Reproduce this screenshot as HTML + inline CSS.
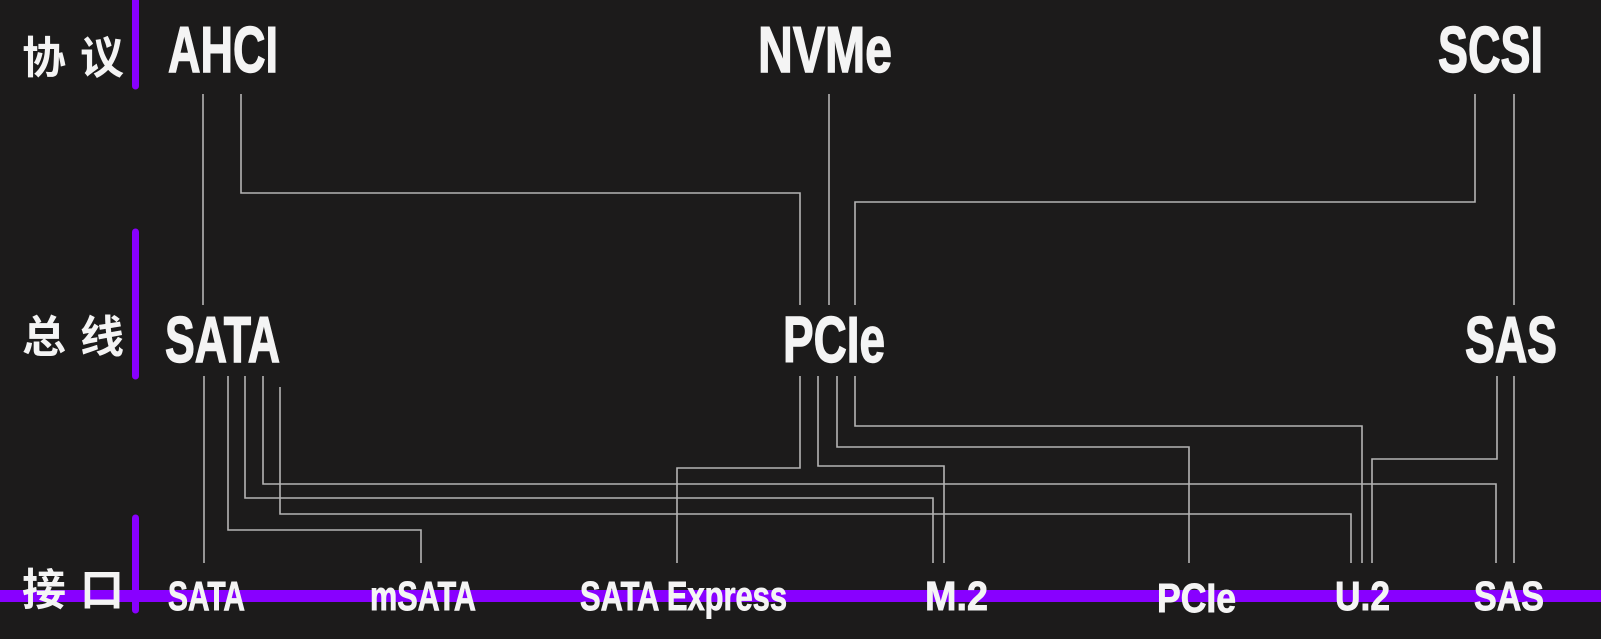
<!DOCTYPE html>
<html><head><meta charset="utf-8"><style>
html,body{margin:0;padding:0;background:#1b1b1b;}
svg{display:block;}
</style></head><body>
<svg width="1601" height="639" viewBox="0 0 1601 639" xmlns="http://www.w3.org/2000/svg">
<rect width="1601" height="639" fill="#1c1b1b"/>
<g stroke="#8800ff" stroke-linecap="round" fill="none">
<line x1="135.5" y1="-5" x2="135.5" y2="86" stroke-width="7"/>
<line x1="135.5" y1="232" x2="135.5" y2="376" stroke-width="7"/>
<line x1="135.5" y1="518" x2="135.5" y2="610" stroke-width="7"/>
</g>
<rect x="0" y="590" width="1601" height="12" fill="#8800ff"/>
<g stroke="#b4b4b4" stroke-width="1.6" fill="none">
<polyline points="203,94 203,305"/>
<polyline points="241,94 241,193 800,193 800,305"/>
<polyline points="829,94 829,305"/>
<polyline points="1475,94 1475,202 855,202 855,305"/>
<polyline points="1514,94 1514,305"/>
<polyline points="204,376 204,563"/>
<polyline points="228,376 228,530 421,530 421,563"/>
<polyline points="245,376 245,498 933,498 933,563"/>
<polyline points="263,376 263,484 1496,484 1496,563"/>
<polyline points="280,387 280,514 1351,514 1351,563"/>
<polyline points="800,376 800,468 677,468 677,563"/>
<polyline points="818,376 818,466 944,466 944,563"/>
<polyline points="837,376 837,447 1189,447 1189,563"/>
<polyline points="855,376 855,426 1362,426 1362,563"/>
<polyline points="1497,376 1497,459 1372,459 1372,563"/>
<polyline points="1514,376 1514,563"/>
</g>
<g fill="#f4f4f4" stroke="#f4f4f4" stroke-width="1.4" font-family="Liberation Sans, sans-serif" font-weight="bold">
<text x="168" y="72" font-size="65" textLength="110" lengthAdjust="spacingAndGlyphs">AHCI</text>
<text x="758" y="72" font-size="65" textLength="134" lengthAdjust="spacingAndGlyphs">NVMe</text>
<text x="1438" y="72" font-size="65" textLength="105" lengthAdjust="spacingAndGlyphs">SCSI</text>
<text x="165" y="362" font-size="65" textLength="115" lengthAdjust="spacingAndGlyphs">SATA</text>
<text x="783" y="362" font-size="65" textLength="102" lengthAdjust="spacingAndGlyphs">PCIe</text>
<text x="1465" y="362" font-size="65" textLength="92" lengthAdjust="spacingAndGlyphs">SAS</text>
<text x="168" y="610" font-size="41" stroke-width="0.9" textLength="77" lengthAdjust="spacingAndGlyphs">SATA</text>
<text x="370" y="610" font-size="41" stroke-width="0.9" textLength="106" lengthAdjust="spacingAndGlyphs">mSATA</text>
<text x="580" y="610" font-size="41" stroke-width="0.9" textLength="207" lengthAdjust="spacingAndGlyphs">SATA Express</text>
<text x="925" y="610" font-size="41" stroke-width="0.9" textLength="63" lengthAdjust="spacingAndGlyphs">M.2</text>
<text x="1157" y="612" font-size="41" stroke-width="0.9" textLength="79" lengthAdjust="spacingAndGlyphs">PCIe</text>
<text x="1335" y="610" font-size="41" stroke-width="0.9" textLength="55" lengthAdjust="spacingAndGlyphs">U.2</text>
<text x="1474" y="610" font-size="41" stroke-width="0.9" textLength="70" lengthAdjust="spacingAndGlyphs">SAS</text>
</g>
<g fill="#f4f4f4" font-family="Liberation Sans, 'Noto Sans CJK SC', sans-serif" font-weight="bold" font-size="44">
<text x="22" y="73">协</text><text x="80" y="73">议</text>
<text x="22" y="352">总</text><text x="80" y="352">线</text>
<text x="22" y="605">接</text><text x="80" y="605">口</text>
</g>
</svg>
</body></html>
